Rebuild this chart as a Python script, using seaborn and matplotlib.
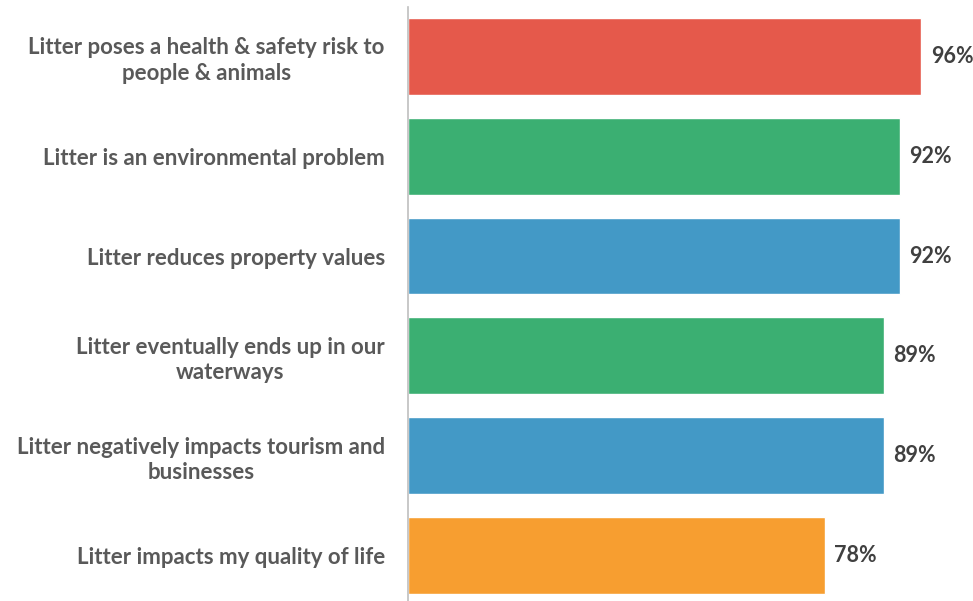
import pandas as pd
import seaborn as sns
import matplotlib.pyplot as plt

# survey statements and share agreeing (%)
statements = [
    'Litter poses a health & safety risk to\npeople & animals',
    'Litter is an environmental problem',
    'Litter reduces property values',
    'Litter eventually ends up in our\nwaterways',
    'Litter negatively impacts tourism and\nbusinesses',
    'Litter impacts my quality of life',
]
values = [96, 92, 92, 89, 89, 78]
bar_colors = ['#E5594B', '#3BAF72', '#4399C6', '#3BAF72', '#4399C6', '#F79E30']

data = pd.DataFrame({'Statement': statements, 'Percent': values})

sns.set_style('white')
plt.rcParams['font.family'] = ['Lato', 'DejaVu Sans']

fig = plt.figure(figsize=(9.73, 6.01), dpi=100)
ax = fig.add_axes([0.419, -0.007, 0.581, 0.996])

sns.barplot(x='Percent', y='Statement', hue='Statement', data=data,
            palette=bar_colors, legend=False, width=0.77, saturation=1, ax=ax)

ax.set_xlim(0, 105.7)
ax.set_xlabel('')
ax.set_ylabel('')
ax.set_xticks([])
for s in ['top', 'right', 'bottom']:
    ax.spines[s].set_visible(False)
ax.spines['left'].set_color('#BFBFBF')
ax.spines['left'].set_linewidth(1.2)

ax.tick_params(axis='y', length=0, pad=16.5)
for lbl in ax.get_yticklabels():
    lbl.set_fontsize(16)
    lbl.set_fontweight('bold')
    lbl.set_color('#595959')
    lbl.set_multialignment('center')
    lbl.set_linespacing(1.25)

for i, v in enumerate(values):
    ax.text(v + 1.8, i, f'{v}%', va='center', ha='left', fontsize=15.5,
            fontweight='bold', color='#404040')

plt.savefig('out.png', dpi=100)
